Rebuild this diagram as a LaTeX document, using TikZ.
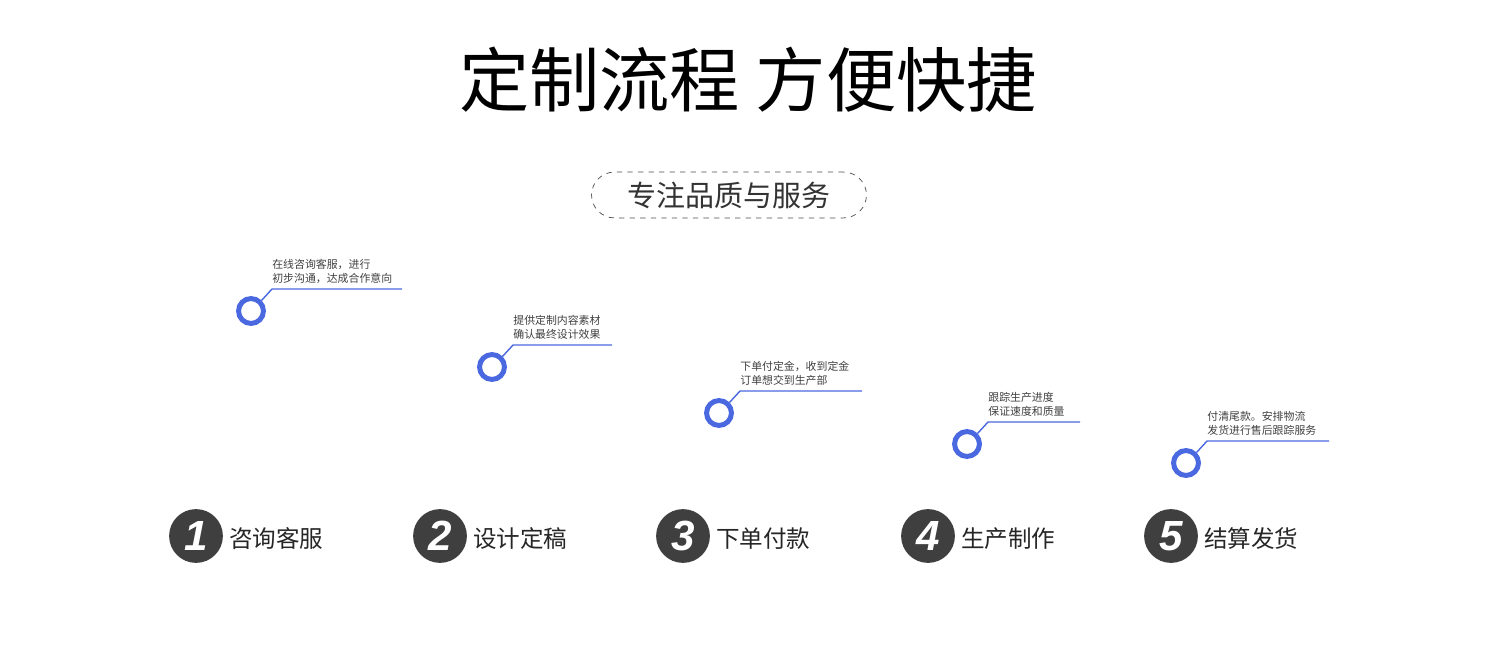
\documentclass[tikz,border=0pt]{standalone}
\usepackage{fontspec}
\setmainfont{Liberation Sans}
\newfontfamily\cjk{Noto Sans CJK SC}
\usetikzlibrary{positioning}
\definecolor{ringblue}{HTML}{4A68E0}
\definecolor{numgray}{HTML}{3F3F3F}
\tikzset{
  ring/.style={circle,draw=ringblue,line width=5pt*0.567,minimum size=25*0.567pt,inner sep=0pt},
  lead/.style={draw=ringblue,line width=0.8pt},
  note/.style={anchor=south west,inner sep=0pt,align=left,font=\cjk\fontsize{6.2}{8}\selectfont,text=black!75},
  numdot/.style={circle,fill=numgray,minimum size=54*0.567pt,inner sep=0pt,text=white,font=\bfseries\itshape\fontsize{24}{24}\selectfont},
  steplabel/.style={anchor=west,inner sep=0pt,font=\cjk\fontsize{13.4}{16}\selectfont,text=black!85}
}
\begin{document}
\begin{tikzpicture}[x=0.02cm,y=-0.02cm]
\useasboundingbox (0,0) rectangle (1497,648);
% title
\node[font=\cjk\fontsize{40}{42}\selectfont] (title) at (748,80) {定制流程\ 方便快捷};
\node[draw=black!70,dashed,rounded corners=23*0.567pt,minimum width=276*0.567pt,minimum height=46*0.567pt,font=\cjk\fontsize{16.5}{18}\selectfont,text=black!80] (sub) at (729,195) {专注品质与服务};
% steps
\foreach \i/\x/\rx/\ry/\len/\num/\lab/\txt in {
  1/196/251/311/130/1/咨询客服/{在线咨询客服，进行\\初步沟通，达成合作意向},
  2/440/492/367/99/2/设计定稿/{提供定制内容素材\\确认最终设计效果},
  3/683/719/413/122/3/下单付款/{下单付定金，收到定金\\订单想交到生产部},
  4/928/967/444/92/4/生产制作/{跟踪生产进度\\保证速度和质量},
  5/1171/1186/463/122/5/结算发货/{付清尾款。安排物流\\发货进行售后跟踪服务}}
{
  \node[numdot] (num\i) at (\x,536) {\num};
  \node[steplabel] (lab\i) at (\x+33,539) {\lab};
  \node[ring] (ring\i) at (\rx,\ry) {};
  \coordinate (bend\i) at (\rx+21,\ry-22);
  \coordinate (end\i) at (\rx+21+\len,\ry-22);
  \draw[lead] (ring\i.45) -- (bend\i) -- (end\i);
  \node[note] (note\i) at ([yshift=3pt]bend\i) {\txt};
}
\end{tikzpicture}
\end{document}
